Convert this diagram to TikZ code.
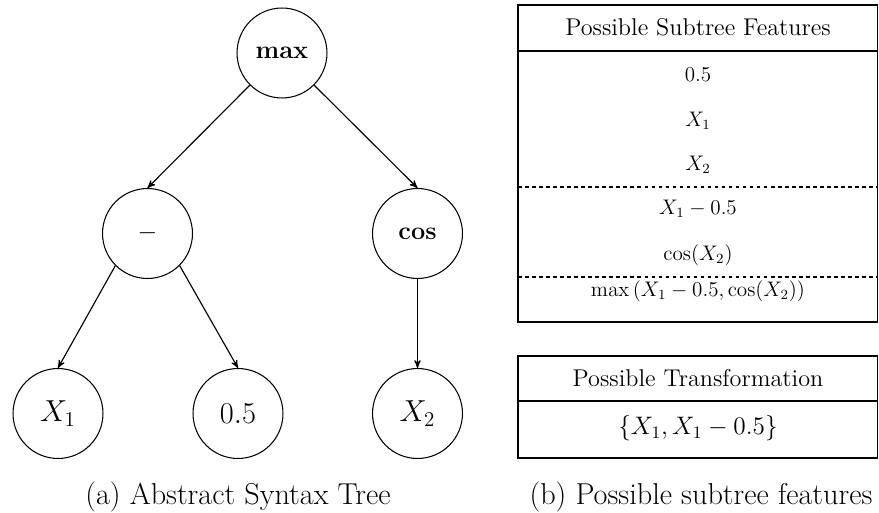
\documentclass[tikz,border=0pt]{standalone}
\usepackage{tikz}
\usetikzlibrary{positioning}
\usetikzlibrary{arrows,shapes}
\usetikzlibrary{calc}
\tikzstyle{vertex}=[circle,draw,minimum size=51.2pt,inner sep=0pt]
\tikzstyle{opvertex}=[vertex,font=\fontsize{15.5}{18}\selectfont]
\tikzstyle{leafvertex}=[vertex,font=\LARGE]
\tikzstyle{edge} = [draw,->,>=stealth',line width=0.65pt]
\tikzstyle{cell} = [font=\fontsize{13.8}{16}\selectfont]
\tikzstyle{rowcell} = [font=\fontsize{11.6}{14}\selectfont]
\tikzstyle{caption} = [font=\fontsize{17.2}{20}\selectfont]

\begin{document}
\begin{tikzpicture}[x=0.02cm, y=-0.02cm, line width=0.6pt]

  \useasboundingbox (0,0) rectangle (879,513);

  % syntax tree
  \foreach \x/\y/\name/\kind/\label in {282/53/root/opvertex/$\mathbf{max}$, 147.5/233.5/minus/opvertex/$-$,
                                        417.5/233.5/cos/opvertex/$\mathbf{cos}$,
                                        58/413.5/xone/leafvertex/$X_1$, 238/413.5/half/leafvertex/$0.5$, 417.5/413.5/xtwo/leafvertex/$X_2$}
          \node[\kind] (\name) at (\x, \y) {\label};

  \foreach \source/ \dest in {root.south west/minus.north, root.south east/cos.north,
                              minus.south west/xone.north, minus.south east/half.north, cos.south/xtwo.north}
         \draw[edge] (\source) -- (\dest);

  \node[caption] (capa) at (238, 497) {(a) Abstract Syntax Tree};

  % feature tables
  \draw (518,5) rectangle (877.5,322);
  \draw (518,51) -- (877.5,51);
  \draw[dash pattern=on 2pt off 2pt] (518,187) -- (877.5,187);
  \draw[dash pattern=on 2pt off 2pt] (518,277) -- (877.5,277);

  \node[cell] (feathead) at (698, 27) {Possible Subtree Features};
  \foreach \y/\name/\label in {75/fa/{$0.5$}, 121/fb/{$X_1$}, 165/fc/{$X_2$},
                               209/fd/{$X_1-0.5$}, 255/fe/{$\cos(X_2)$}, 291/ff/{$\max\left(X_1-0.5,\cos(X_2)\right)$}}
          \node[rowcell] (\name) at (698, \y) {\label};

  \draw (518,356) rectangle (877.5,458);
  \draw (518,401) -- (877.5,401);
  \node[cell] (transhead) at (698, 378) {Possible Transformation};
  \node[cell] (trans) at (698, 428) {$\{X_1, X_1-0.5\}$};

  \node[caption] (capb) at (701, 497) {(b) Possible subtree features};

\end{tikzpicture}
\end{document}
